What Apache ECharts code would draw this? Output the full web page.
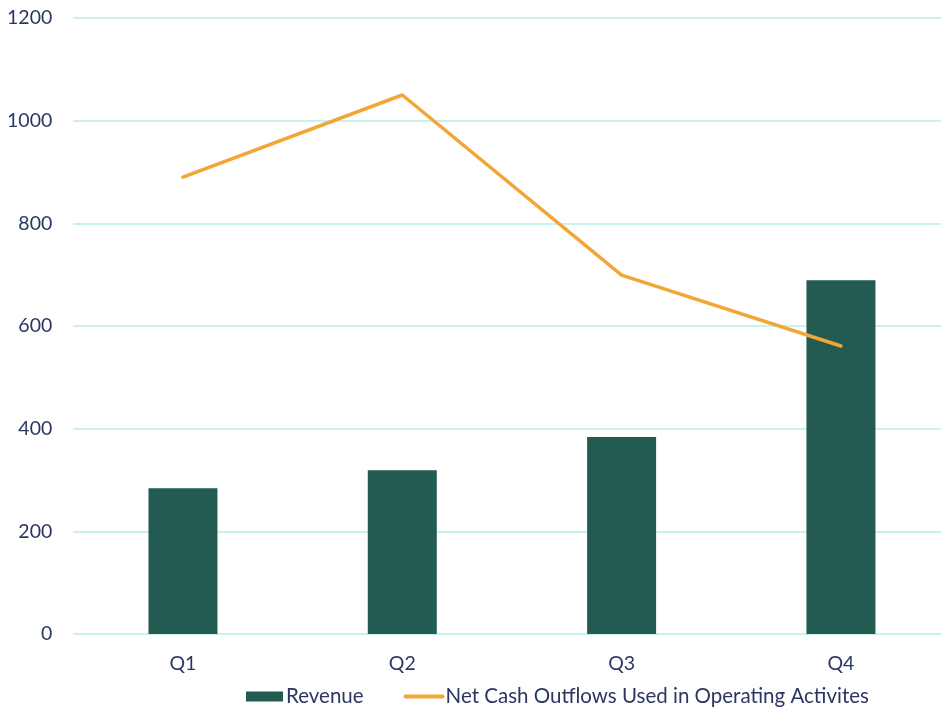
<!DOCTYPE html>
<html><head><meta charset="utf-8">
<script src="https://cdn.jsdelivr.net/npm/echarts@6/dist/echarts.min.js"></script>
<style>html,body{margin:0;padding:0;background:#fff}#c{width:941px;height:707px}</style>
</head><body><div id="c"></div>
<script>
const categories = ['Q1', 'Q2', 'Q3', 'Q4'];
const revenue = [284, 319, 384, 689];
const netCashOutflows = [890, 1050, 699, 561];
const yTicks = [0, 200, 400, 600, 800, 1000, 1200];

const textColor = '#2b3763';
const font = 'Lato';
const chart = echarts.init(document.getElementById('c'));
chart.setOption({
  animation: false,
  grid: { left: 73.3, width: 877.3, top: 18, bottom: 73, outerBoundsMode: 'none', containLabel: false },
  legend: {
    left: 241, top: 681,
    itemWidth: 37, itemHeight: 10, itemGap: 40,
    textStyle: { color: textColor, fontSize: 20.5, fontFamily: font, padding: [0, 0, 0, -2] },
    data: [
      { name: 'Revenue', icon: 'rect' },
      { name: 'Net Cash Outflows Used in Operating Activites', itemStyle: { opacity: 0 }, lineStyle: { width: 4, color: '#f2a735' } }
    ]
  },
  xAxis: {
    type: 'category', data: categories,
    axisLine: { show: false }, axisTick: { show: false },
    axisLabel: { color: textColor, fontSize: 19.5, fontFamily: font, margin: 20 }
  },
  yAxis: {
    type: 'value', min: yTicks[0], max: yTicks[yTicks.length - 1], interval: 200,
    axisLine: { show: false }, axisTick: { show: false },
    axisLabel: { color: textColor, fontSize: 19.5, fontFamily: font, margin: 21, formatter: v => String(v) },
    splitLine: { lineStyle: { color: '#c6f3ee', width: 2 } }
  },
  series: [
    {
      name: 'Revenue', type: 'bar', data: revenue, barWidth: 69,
      itemStyle: { color: '#235b52' }
    },
    {
      name: 'Net Cash Outflows Used in Operating Activites', type: 'line', data: netCashOutflows,
      symbol: 'none',
      lineStyle: { color: '#f2a735', width: 3.5, cap: 'round' },
      itemStyle: { color: '#f2a735' }
    }
  ]
});
</script></body></html>
